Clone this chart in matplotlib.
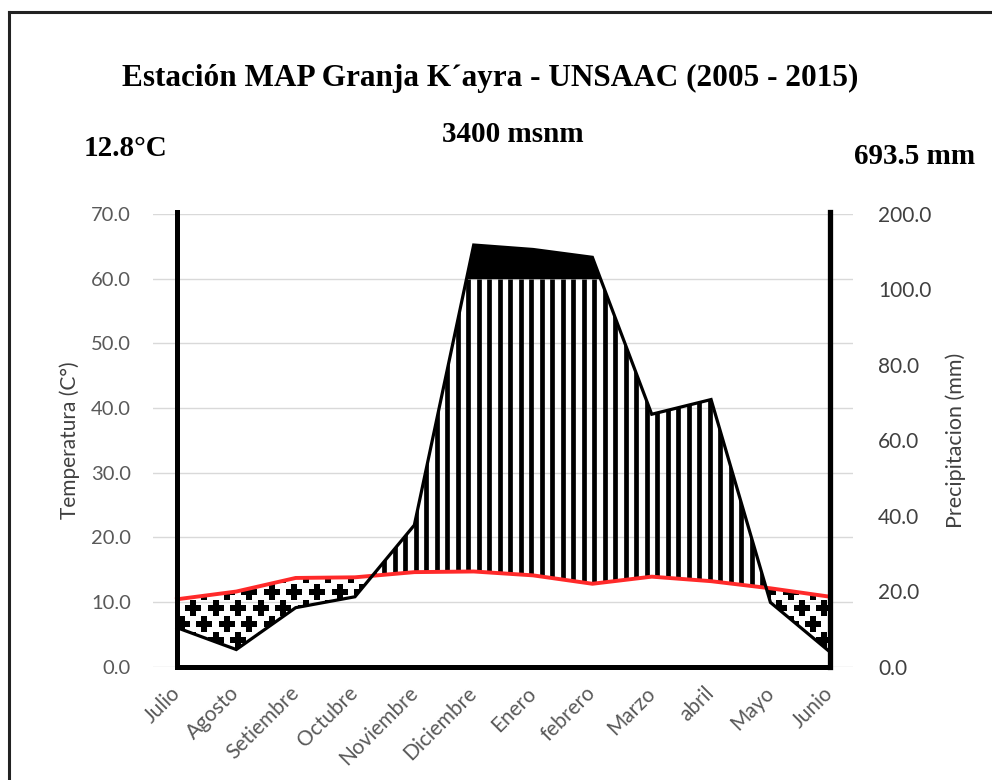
import numpy as np
import matplotlib.pyplot as plt
from matplotlib.lines import Line2D

plt.rcParams['font.family'] = ['Lato', 'DejaVu Sans']

# Climate data (Walter-Lieth diagram)
months = ['Julio', 'Agosto', 'Setiembre', 'Octubre', 'Noviembre', 'Diciembre',
          'Enero', 'febrero', 'Marzo', 'abril', 'Mayo', 'Junio']
temperature = [10.4, 11.6, 13.7, 13.8, 14.6, 14.7, 14.1, 12.8, 13.9, 13.2, 12.1, 10.8]
precipitation = [10.3, 4.5, 15.6, 18.5, 37.5, 158.9, 153.0, 142.6, 66.9, 70.8, 17.0, 3.9]

temp_ticks = np.arange(0, 80, 10)
precip_tick_labels = ['0.0', '20.0', '40.0', '60.0', '80.0', '100.0', '200.0']

title = 'Estación MAP Granja K´ayra - UNSAAC (2005 - 2015)'
altitude = '3400 msnm'
mean_temp = '12.8°C'
total_precip = '693.5 mm'

HATCH_TOP = 60.0  # where the striped area ends and the solid one begins

x = np.arange(len(months))
t = np.array(temperature)
# precipitation drawn on the temperature scale: 20 mm per step up to 100 mm, then 100 mm per step
p = np.interp(precipitation, [0, 100, 200], [0, 70 * 100 / 120, 70])

fig = plt.figure(figsize=(9.92, 7.8), dpi=100)
ax = fig.add_axes([0.1542, 0.1455, 0.7056, 0.5801])
ax.set_xlim(-0.404, 11.39)
ax.set_ylim(0, 70)

for s in ax.spines.values():
    s.set_visible(False)
ax.set_yticks(temp_ticks)
ax.set_yticklabels([f'{v:.1f}' for v in temp_ticks])
ax.yaxis.grid(True, color='#d9d9d9', linewidth=1.0)
ax.set_axisbelow(True)
ax.tick_params(axis='y', length=0, pad=16, labelsize=14.5, labelcolor='#595959')
ax.set_xticks(x)
ax.set_xticklabels(months, rotation=45, ha='right', va='center', rotation_mode='anchor')
ax.tick_params(axis='x', length=0, pad=17, labelsize=15, labelcolor='#595959')
ax.set_ylabel('Temperatura (C°)', fontsize=15, color='#404040', labelpad=8)

# wet season: vertical stripes up to HATCH_TOP, solid above
wet = ax.fill_between(x, t, p, where=p >= t, interpolate=True, facecolor='none', edgecolor='none')
for path in wet.get_paths():
    stripes = ax.vlines(np.arange(-0.4, 11.4, 0.177), 0, HATCH_TOP, colors='black', linewidth=3.4)
    stripes.set_clip_path(path, ax.transData)
ax.fill_between(x, HATCH_TOP, p, where=p >= HATCH_TOP, interpolate=True, color='black', linewidth=0)

# dry season: plus pattern
dry = ax.fill_between(x, p, t, where=t >= p, interpolate=True, facecolor='none', edgecolor='none')
gx, gy = [], []
for i, yy in enumerate(np.arange(1.6, 20, 2.5)):
    off = 0.19 if i % 2 else 0.0
    for xx in np.arange(-0.3, 11.5, 0.38):
        gx.append(xx + off)
        gy.append(yy)
for path in dry.get_paths():
    sc = ax.scatter(gx, gy, marker='P', s=140, color='black', linewidths=0)
    sc.set_clip_path(path, ax.transData)

ax.plot(x, t, color='#ff2a2a', linewidth=2.8, zorder=4)
ax.plot(x, p, color='black', linewidth=2.3, zorder=5, solid_joinstyle='miter')

# frame lines at first and last month
ax.plot([0, 0], [0, 70.3], color='black', linewidth=3.6, clip_on=False, zorder=6)
ax.plot([11, 11], [0, 70.3], color='black', linewidth=3.8, clip_on=False, zorder=6)
ax.plot([0, 11], [0, 0], color='black', linewidth=3.6, clip_on=False, zorder=6,
        solid_capstyle='projecting')

ax2 = ax.twinx()
ax2.set_ylim(0, 120)
ax2.set_yticks(np.arange(0, 140, 20))
ax2.set_yticklabels(precip_tick_labels)
for s in ax2.spines.values():
    s.set_visible(False)
ax2.tick_params(axis='y', length=0, pad=18, labelsize=15, labelcolor='#404040')
ax2.set_ylabel('Precipitacion (mm)', fontsize=15.5, color='#404040', labelpad=10)

serif = ['Liberation Serif', 'DejaVu Serif']
fig.text(490 / 992, 1 - 78 / 780, title, ha='center', va='center', fontsize=22.5,
         fontweight='bold', family=serif)
fig.text(513 / 992, 1 - 134 / 780, altitude, ha='center', va='center', fontsize=21,
         fontweight='bold', family=serif)
fig.text(126 / 992, 1 - 148 / 780, mean_temp, ha='center', va='center', fontsize=21,
         fontweight='bold', family=serif)
fig.text(915 / 992, 1 - 157 / 780, total_precip, ha='center', va='center', fontsize=21,
         fontweight='bold', family=serif)

# page border (left and top only)
fig.add_artist(Line2D([9 / 992, 9 / 992], [0, 1 - 12 / 780], color='#222222', linewidth=2.2,
                      transform=fig.transFigure))
fig.add_artist(Line2D([9 / 992, 1], [1 - 12 / 780, 1 - 12 / 780], color='#222222', linewidth=2.2,
                      transform=fig.transFigure))

fig.savefig('out.png', dpi=100)
